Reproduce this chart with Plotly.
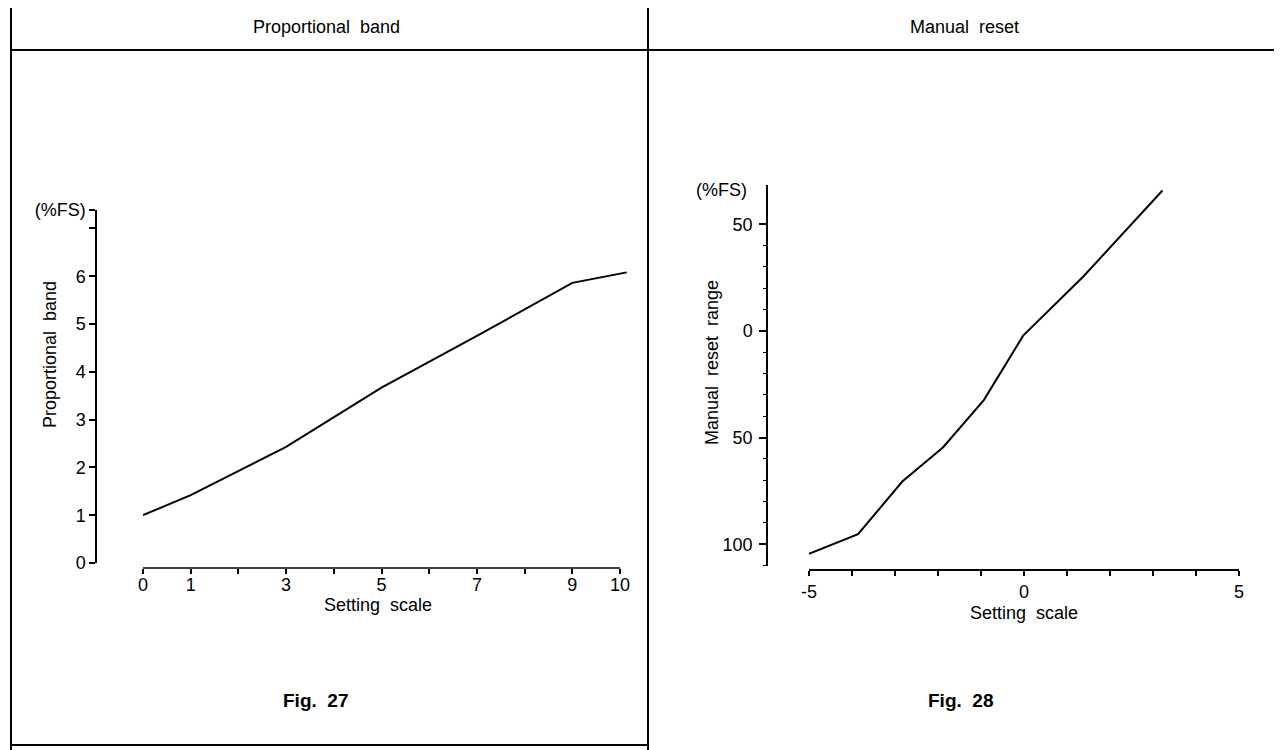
import plotly.graph_objects as go

W, H = 1282, 750
OFF = 8  # page margin of the browser, compensated so the frame lands where the scan has it

# -----------------------------
# Fig. 27 - Proportional band
# -----------------------------
pb_x = [0, 1, 3, 5, 7, 9, 10.14]
pb_y = [1.0, 1.42, 2.43, 3.67, 4.75, 5.86, 6.08]
pb_xticks = list(range(0, 11))
pb_xlabels = ["0", "1", "", "3", "", "5", "", "7", "", "9", "10"]
pb_yticks = [0, 1, 2, 3, 4, 5, 6, 7, 7.385]
pb_ylabels = ["0", "1", "2", "3", "4", "5", "6", "", "(%FS)"]

# -----------------------------
# Fig. 28 - Manual reset
# -----------------------------
mr_x = [-5.0, -3.86, -2.83, -1.88, -0.93, -0.02, 1.38, 3.22]
mr_y = [-104.5, -95.3, -70.6, -54.5, -32.3, -2.2, 25.5, 65.8]
mr_xticks = list(range(-5, 6))
mr_xlabels = ["-5", "", "", "", "", "0", "", "", "", "", "5"]
mr_yticks = [-100, -50, 0, 50]
mr_ylabels = ["100", "50", "0", "50"]
mr_yminor = list(range(-110, 60, 10))

FONT = "Liberation Sans, Arial, sans-serif"


def px(x):
    return (x - OFF) / W


def py(y):
    return 1 - (y - OFF) / H


fig = go.Figure()

fig.add_trace(go.Scatter(x=pb_x, y=pb_y, mode="lines",
                         line=dict(color="black", width=2),
                         xaxis="x", yaxis="y", showlegend=False))
fig.add_trace(go.Scatter(x=mr_x, y=mr_y, mode="lines",
                         line=dict(color="black", width=2),
                         xaxis="x2", yaxis="y2", showlegend=False))

tick_common = dict(ticks="outside", tickcolor="black", tickwidth=1.5,
                   showgrid=False, zeroline=False, automargin=False,
                   tickfont=dict(family=FONT, size=18, color="black"))

x_unit = (620 - 143) / 10
fig.update_layout(
    xaxis=dict(domain=[px(143), px(143 + 10.2 * x_unit)], range=[0, 10.2],
               anchor="free", position=py(568), showline=False,
               tickmode="array", tickvals=pb_xticks, ticktext=pb_xlabels,
               ticklen=5, ticklabelstandoff=-5, **tick_common),
    yaxis=dict(domain=[py(563), py(210)], range=[0, 7.385],
               anchor="free", position=px(96), showline=True,
               linecolor="black", linewidth=1.5,
               tickmode="array", tickvals=pb_yticks, ticktext=pb_ylabels,
               ticklen=6, **tick_common),
    xaxis2=dict(domain=[px(809), px(1239)], range=[-5, 5],
                anchor="free", position=py(570), showline=True,
                linecolor="black", linewidth=1.5,
                tickmode="array", tickvals=mr_xticks, ticktext=mr_xlabels,
                ticklen=5, ticklabelstandoff=1, **tick_common),
    yaxis2=dict(domain=[py(565.6), py(185)], range=[-110, 68.4],
                anchor="free", position=px(767), showline=True,
                linecolor="black", linewidth=1.5,
                tickmode="array", tickvals=mr_yticks, ticktext=mr_ylabels,
                ticklen=7, ticklabelstandoff=3,
                minor=dict(tickmode="array", tickvals=mr_yminor, ticks="outside",
                           ticklen=3, tickcolor="black", tickwidth=1.2),
                **tick_common),
)

# x axis line of Fig. 27 (runs 0..10 only)
fig.add_shape(type="line", xref="x", yref="paper", x0=0, x1=10,
              y0=py(568), y1=py(568), line=dict(color="black", width=1.5))

# -----------------------------
# Frame
# -----------------------------
frame = dict(color="black", width=2)
fig.add_shape(type="line", xref="paper", yref="paper", x0=px(11), x1=1, y0=py(3.5), y1=py(3.5), line=frame)
fig.add_shape(type="line", xref="paper", yref="paper", x0=px(11), x1=1, y0=py(50), y1=py(50), line=frame)
fig.add_shape(type="line", xref="paper", yref="paper", x0=px(11), x1=px(11), y0=0, y1=1, line=frame)
fig.add_shape(type="line", xref="paper", yref="paper", x0=px(648), x1=px(648), y0=0, y1=py(3.5), line=frame)
fig.add_shape(type="line", xref="paper", yref="paper", x0=px(11), x1=px(648), y0=py(745), y1=py(745), line=frame)

# -----------------------------
# Texts
# -----------------------------
texts = [
    ("Proportional&nbsp;&nbsp;band", 326, 27, 18, 0, False),
    ("Manual&nbsp;&nbsp;reset", 964, 27, 18, 0, False),
    ("Proportional&nbsp;&nbsp;band", 50, 355, 18, -90, False),
    ("Manual&nbsp;&nbsp;reset&nbsp;&nbsp;range", 712, 363, 18, -90, False),
    ("Setting&nbsp;&nbsp;scale", 378, 605, 18, 0, False),
    ("Setting&nbsp;&nbsp;scale", 1024, 613, 18, 0, False),
    ("(%FS)", 721, 190, 18, 0, False),
    ("Fig.&nbsp;&nbsp;27", 315, 700, 19, 0, True),
    ("Fig.&nbsp;&nbsp;28", 960, 700, 19, 0, True),
]
for t, x, y, s, ang, bold in texts:
    fig.add_annotation(text=f"<b>{t}</b>" if bold else t,
                       xref="paper", yref="paper", x=px(x), y=py(y),
                       xanchor="center", yanchor="middle", showarrow=False,
                       textangle=ang,
                       font=dict(family=FONT, size=s, color="black"))

fig.update_layout(
    width=W, height=H,
    margin=dict(l=0, r=0, t=0, b=0, pad=0),
    paper_bgcolor="white", plot_bgcolor="white",
    showlegend=False,
)

fig.write_html("out.html")
